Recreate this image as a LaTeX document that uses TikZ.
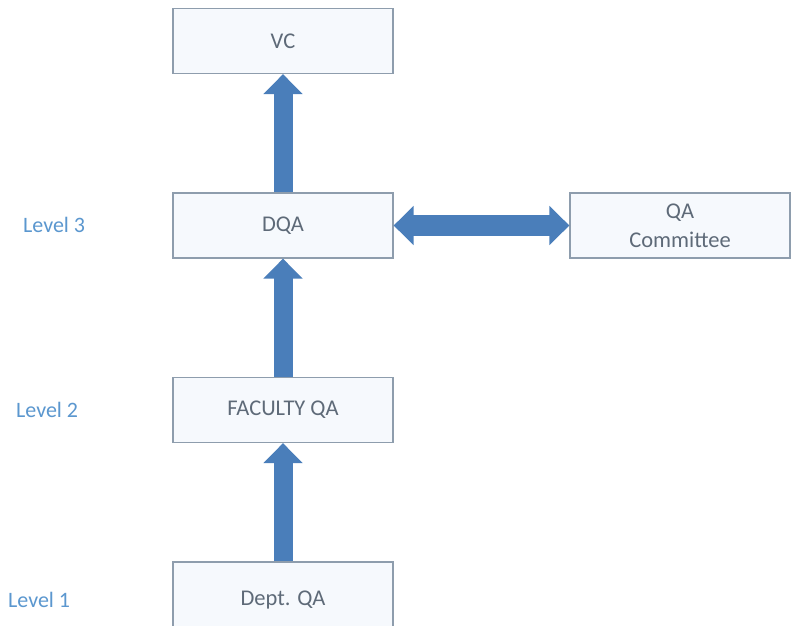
\documentclass[tikz,border=0pt]{standalone}
\usepackage{fontspec}
\setmainfont{Carlito}
\usetikzlibrary{arrows.meta}
\definecolor{boxline}{HTML}{8E9DAD}
\definecolor{boxfill}{HTML}{F6F9FD}
\definecolor{boxtext}{HTML}{5E6A78}
\definecolor{lvltext}{HTML}{5B97CF}
\definecolor{arrowblue}{HTML}{4A7EBA}
\begin{document}
\begin{tikzpicture}[x=1pt, y=-1pt,
    box/.style={draw=boxline, line width=1.2pt, fill=boxfill, text=boxtext,
      minimum width=220pt, minimum height=65pt, inner sep=0pt, align=center,
      font=\fontsize{22.5}{29}\selectfont},
    lvl/.style={text=lvltext, anchor=west, inner sep=0pt,
      font=\fontsize{22}{26}\selectfont},
    bigarrow/.style={draw=arrowblue, line width=19pt,
      -{Triangle[width=38pt, length=20pt]}},
    dblarrow/.style={draw=arrowblue, line width=21pt,
      {Triangle[width=38pt, length=20pt]}-{Triangle[width=38pt, length=20pt]}}]
  \clip (0,0) rectangle (791,625);
  \fill[white] (0,0) rectangle (791,625);
  % boxes
  \node[box] (vc) at (283,41) {VC};
  \node[box] (dqa) at (283,225.5) {DQA};
  \node[box] (qac) at (680,225.5) {QA\\Committee};
  \node[box] (fac) at (283,410) {FACULTY QA};
  \node[box, minimum height=76pt] (dept) at (283,600) {Dept. QA};
  % levels
  \node[lvl] (lvl3) at (23,225) {Level 3};
  \node[lvl] (lvl2) at (16,410) {Level 2};
  \node[lvl] (lvl1) at (8,600) {Level 1};
  % arrows
  \draw[bigarrow] (dqa.north) -- (vc.south);
  \draw[bigarrow] (fac.north) -- (dqa.south);
  \draw[bigarrow] (dept.north) -- (fac.south);
  \draw[dblarrow] (dqa.east) -- (qac.west);
\end{tikzpicture}
\end{document}
